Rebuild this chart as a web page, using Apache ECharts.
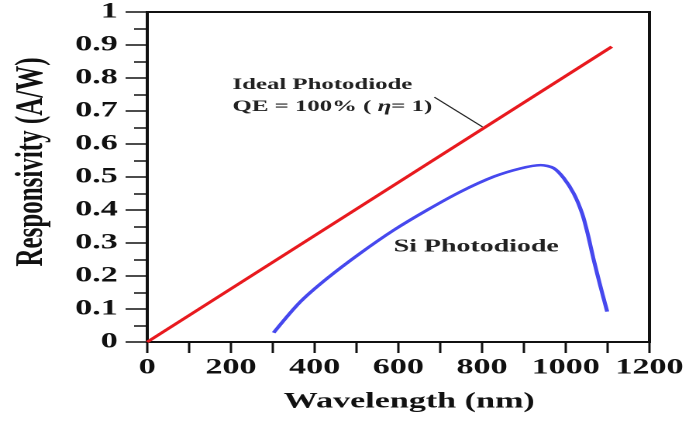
<!DOCTYPE html>
<html>
<head>
<meta charset="utf-8">
<script src="https://cdn.jsdelivr.net/npm/echarts@6/dist/echarts.min.js"></script>
<style>
  html, body { margin: 0; padding: 0; background: #fff; overflow: hidden; }
  /* the reference figure is stretched sideways, so draw narrow and widen */
  #chart { width: 446px; height: 421px; transform: scaleX(1.55); transform-origin: 0 0; }
</style>
</head>
<body>
<div id="chart"></div>
<script>
// ideal photodiode, R = lambda / 1240
const idealWavelength = [0, 1110]
const idealResponse = [0, 0.895]

// Si photodiode
const siWavelength = [302, 366, 430, 509, 589, 669, 748, 828, 892, 940, 971, 995, 1019, 1039, 1052, 1067, 1083, 1099]
const siResponse = [0.028, 0.122, 0.193, 0.269, 0.339, 0.400, 0.455, 0.501, 0.526, 0.536, 0.527, 0.497, 0.450, 0.390, 0.330, 0.248, 0.168, 0.092]

const serif = '"Liberation Serif", "Times New Roman", serif'

const pairs = (xs, ys) => xs.map((x, i) => [x, ys[i]])

var chartDom = document.getElementById('chart')
var myChart = echarts.init(chartDom, null, { devicePixelRatio: 2 })
var option

option = {
  animation: false,
  backgroundColor: '#fff',
  grid: {
    left: 95,
    right: 27,
    top: 12,
    bottom: 79,
    outerBoundsMode: 'none',
    containLabel: false,
    show: true,
    borderColor: '#111',
    borderWidth: 2
  },
  xAxis: {
    type: 'value',
    min: 0,
    max: 1200,
    interval: 200,
    name: 'Wavelength (nm)',
    nameLocation: 'middle',
    nameGap: 49,
    nameTextStyle: { fontFamily: serif, fontWeight: 'bold', fontSize: 22, color: '#111', padding: [0, 0, 0, 14] },
    axisLine: { lineStyle: { color: '#111', width: 2 } },
    axisTick: { inside: false, length: 11, lineStyle: { color: '#111', width: 1.5 } },
    minorTick: { show: true, splitNumber: 2, length: 11, lineStyle: { color: '#111', width: 1.5 } },
    axisLabel: {
      fontFamily: serif, fontWeight: 'bold', fontSize: 22, color: '#111', margin: 15,
      formatter: (v) => String(v)
    },
    splitLine: { show: false }
  },
  yAxis: {
    type: 'value',
    min: 0,
    max: 1,
    interval: 0.1,
    name: 'Responsivity (A/W)',
    nameLocation: 'middle',
    nameGap: 62,
    nameTextStyle: { fontFamily: serif, fontWeight: 'bold', fontSize: 25, color: '#111', padding: [0, 0, 0, 30] },
    axisLine: { lineStyle: { color: '#111', width: 2 } },
    axisTick: { inside: false, length: 14, lineStyle: { color: '#111', width: 1.5 } },
    minorTick: { show: true, splitNumber: 2, length: 8.5, lineStyle: { color: '#111', width: 1.5 } },
    axisLabel: { fontFamily: serif, fontWeight: 'bold', fontSize: 22, color: '#111', margin: 19 },
    splitLine: { show: false }
  },
  series: [
    {
      name: 'Ideal Photodiode',
      type: 'line',
      data: pairs(idealWavelength, idealResponse),
      showSymbol: false,
      lineStyle: { color: '#e8191e', width: 2.6 },
      markLine: {
        silent: true,
        symbol: 'none',
        label: { show: false },
        lineStyle: { color: '#222', width: 1, type: 'solid' },
        data: [[{ coord: [686, 0.742] }, { coord: [801, 0.652] }]]
      }
    },
    {
      name: 'Si Photodiode',
      type: 'line',
      data: pairs(siWavelength, siResponse),
      showSymbol: false,
      smooth: 0.3,
      lineStyle: { color: '#4648ee', width: 2.6 }
    }
  ],
  graphic: [
    {
      type: 'text',
      left: 150,
      top: 77,
      style: {
        text: 'Ideal Photodiode',
        font: 'bold 16px ' + serif,
        fill: '#222'
      }
    },
    {
      type: 'text',
      left: 150,
      top: 99,
      style: {
        text: 'QE = 100% ( {i|η}= 1)',
        font: 'bold 16px ' + serif,
        fill: '#222',
        rich: { i: { fontStyle: 'italic', fontWeight: 'bold', fontSize: 16, fontFamily: serif, fill: '#222' } }
      }
    },
    {
      type: 'text',
      left: 254,
      top: 238,
      style: {
        text: 'Si Photodiode',
        font: 'bold 18px ' + serif,
        fill: '#222'
      }
    }
  ]
}

option && myChart.setOption(option)
</script>
</body>
</html>
